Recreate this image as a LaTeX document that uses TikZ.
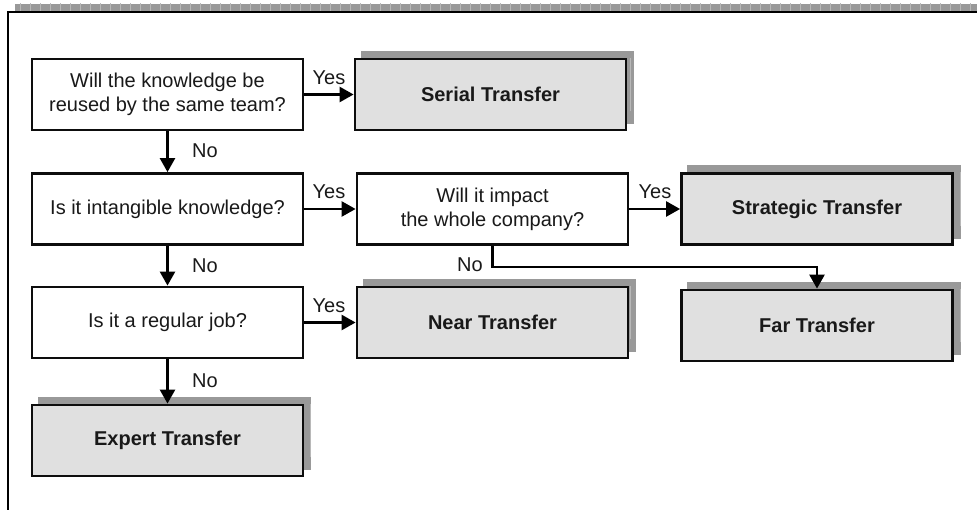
\documentclass[tikz,border=0pt]{standalone}
\usepackage{fontspec}
\setmainfont{Liberation Sans}
\usetikzlibrary{arrows.meta,backgrounds}

\definecolor{shadowfill}{gray}{0.60}
\definecolor{shadowgrid}{gray}{0.72}
\definecolor{resultfill}{gray}{0.88}

% gridded drop shadow peeking out above and to the right of a node
\newcommand\gridshadow[1]{%
  \begin{scope}
    \clip ([shift={(7,-7)}]#1.south west) rectangle ([shift={(7,-7)}]#1.north east);
    \fill[shadowfill] ([shift={(7,-7)}]#1.south west) rectangle ([shift={(7,-7)}]#1.north east);
    \draw[shadowgrid, line width=0.7pt, step=10]
      ([shift={(0,-20)}]#1.south west) grid ([shift={(20,0)}]#1.north east);
  \end{scope}}

\begin{document}
\begin{tikzpicture}[x=1pt,y=-1pt,
  base/.style={draw=black!95, line width=2.8pt, minimum width=271pt, minimum height=71pt,
    inner sep=0pt, align=center, text=black!90, font=\fontsize{20}{24}\selectfont},
  question/.style={base, fill=white},
  result/.style={base, fill=resultfill, font=\fontsize{20}{24}\selectfont\bfseries},
  link/.style={line width=2.5pt, -{Triangle[length=14pt,width=15pt]}},
  lbl/.style={inner sep=0pt, text=black!90, font=\fontsize{20}{24}\selectfont},
]
\useasboundingbox (0,0) rectangle (977,510);

% outer frame with its gridded top strip
\begin{scope}
  \clip (15,4) rectangle (977,11);
  \fill[shadowfill] (15,4) rectangle (977,11);
  \draw[shadowgrid, line width=0.7pt, step=10] (10,0) grid (980,20);
\end{scope}
\draw[line width=2.8pt] (8,512) -- (8,12) -- (979,12);

% decision boxes
\node[question] (reuse)    at (167.5, 94.5) {Will the knowledge be\\reused by the same team?};
\node[question] (intang)   at (167.5, 209)  {Is it intangible knowledge?};
\node[question] (impact)   at (492.5, 209)  {Will it impact\\the whole company?};
\node[question] (regular)  at (167.5, 322.5){Is it a regular job?};

% outcome boxes
\node[result] (serial)    at (490.5, 94.5) {Serial Transfer};
\node[result] (strategic) at (817, 209)    {Strategic Transfer};
\node[result] (near)      at (492.5, 322.5){Near Transfer};
\node[result] (far)       at (817, 325.5)  {Far Transfer};
\node[result] (expert)    at (167.5, 440.5){Expert Transfer};

\begin{scope}[on background layer]
  \gridshadow{serial}
  \gridshadow{strategic}
  \gridshadow{near}
  \gridshadow{far}
  \gridshadow{expert}
\end{scope}

% connectors
\draw[link] (reuse) -- (serial);
\draw[link] (reuse) -- (intang);
\draw[link] (intang) -- (impact);
\draw[link] (impact) -- (strategic);
\draw[link] (intang) -- (regular);
\draw[link] (regular) -- (near);
\draw[link] (regular) -- (expert);
\coordinate (bend) at (817, 267);
\draw[link] (impact.south) -- (impact.south |- bend) -- (bend) -- (far.north);

% branch labels
\node[lbl] (y1) at (329, 78)  {Yes};
\node[lbl] (y2) at (329, 192) {Yes};
\node[lbl] (y3) at (655, 192) {Yes};
\node[lbl] (y4) at (329, 306) {Yes};
\node[lbl] (n1) at (205, 151) {No};
\node[lbl] (n2) at (205, 266) {No};
\node[lbl] (n3) at (470, 265) {No};
\node[lbl] (n4) at (205, 381) {No};
\end{tikzpicture}
\end{document}
